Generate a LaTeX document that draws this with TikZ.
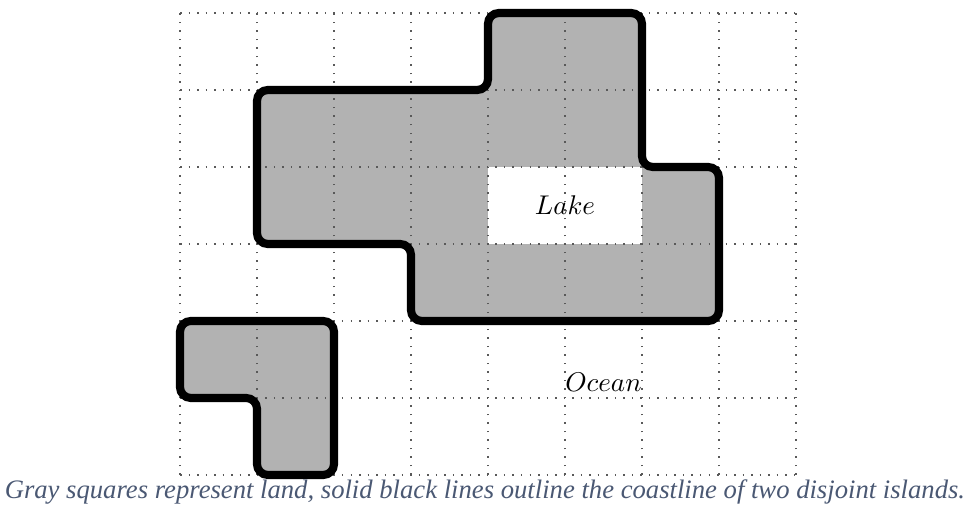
\documentclass[tikz,border=0pt]{standalone}
\usepackage{fontspec}
\newfontfamily\capfont{Liberation Serif}
\usetikzlibrary{positioning}
\definecolor{captext}{HTML}{4A5873}

\begin{document}
\begin{tikzpicture}
    [
        land/.style={fill=gray!60},
        lake/.style={fill=white},
        gridline/.style={gray!70!black, line width=0.55pt, dash pattern=on 0.55pt off 2.6pt},
        coast/.style={draw=black, line width=3pt, rounded corners=4pt},
        caption/.style={font=\capfont\itshape\fontsize{9.85}{12}\selectfont, text=captext, inner sep=0pt}
    ]
        \useasboundingbox (-2.338,-0.506) rectangle (10.26,6.169);
        % =========================================================================
        % LAND AND LAKE
        % =========================================================================
        % --- big island ---
        \fill [land] (1,5) -- (4,5) -- (4,6) -- (6,6) -- (6,4) -- (7,4) -- (7,2)
            -- (3,2) -- (3,3) -- (1,3) -- cycle;
        % --- small island ---
        \fill [land] (0,2) -- (2,2) -- (2,0) -- (1,0) -- (1,1) -- (0,1) -- cycle;
        % --- lake ---
        \fill [lake] (4,3) rectangle (6,4);

        % =========================================================================
        % GRID
        % =========================================================================
        \draw [gridline] (0,0) grid (8,6);

        % =========================================================================
        % COASTLINE
        % =========================================================================
        \draw [coast] (1,5) -- (4,5) -- (4,6) -- (6,6) -- (6,4) -- (7,4) -- (7,2)
            -- (3,2) -- (3,3) -- (1,3) -- cycle;
        \draw [coast] (0,2) -- (2,2) -- (2,0) -- (1,0) -- (1,1) -- (0,1) -- cycle;

        % =========================================================================
        % LABELS
        % =========================================================================
        \node (lakelabel) at (5,3.5) {$Lake$};
        \node (oceanlabel) at (5.5,1.2) {$Ocean$};
        \node [caption] (caption) at (3.96,-0.22) {Gray squares represent land, solid black lines outline the coastline of two disjoint islands.};

    \end{tikzpicture}
\end{document}
